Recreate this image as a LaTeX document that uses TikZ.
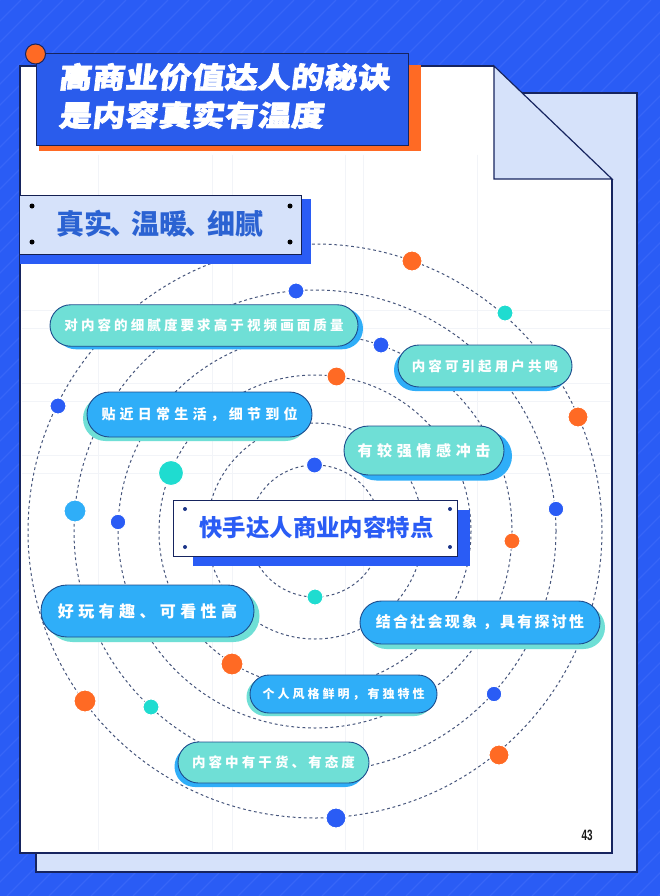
\documentclass[tikz,border=0pt]{standalone}
\usepackage{fontspec}
\usetikzlibrary{shapes.misc}
\setmainfont{Noto Sans CJK SC}
\newfontfamily\titlefont{Noto Sans CJK SC}[FakeSlant=0.12,FakeStretch=1.14,FakeBold=2.4]
\newfontfamily\numfont{Liberation Sans}[FakeStretch=0.66]
\definecolor{bgblue}{HTML}{2A5CF5}
\definecolor{stripe}{HTML}{3766F8}
\definecolor{boxblue}{HTML}{2A5CEC}
\definecolor{lightblue}{HTML}{D6E2FA}
\definecolor{navy}{HTML}{16245F}
\definecolor{teal}{HTML}{6FDFD6}
\definecolor{sky}{HTML}{2FAEF8}
\definecolor{orangec}{HTML}{FF6A24}
\definecolor{cyanc}{HTML}{1FDCD0}
\definecolor{ringc}{HTML}{46557C}
\definecolor{gridc}{HTML}{F2F4F8}
\definecolor{subtext}{HTML}{2B62D2}
\newcommand{\spaced}[2]{\fontsize{#1}{#1}\selectfont\bfseries\addfontfeature{LetterSpace=#2}}
\tikzset{
 sheetline/.style={draw=navy,line width=1.2pt},
 ring/.style={draw=ringc,line width=1pt,dash pattern=on 2.8pt off 2.8pt},
 pill/.style={rounded rectangle,draw=navy!70!sky,line width=.9pt,inner sep=0pt,outer sep=0pt,text=white,align=center},
 pillback/.style={rounded rectangle,inner sep=0pt,outer sep=0pt},
 dotn/.style={circle,inner sep=0pt,outer sep=0pt,draw=white,line width=1pt},
 rivet/.style={circle,inner sep=0pt,outer sep=0pt,minimum size=5pt,fill=black},
 rivetb/.style={circle,inner sep=0pt,outer sep=0pt,minimum size=4pt,fill=navy!70!boxblue},
}
\begin{document}
\begin{tikzpicture}[x=1pt,y=-1pt]
\useasboundingbox (0,0) rectangle (660,896);
% background
\fill[bgblue] (0,0) rectangle (660,896);
\begin{scope}
\clip (0,0) rectangle (660,896);
\foreach \s in {0,21,...,1560}{
  \draw[stripe,line width=1.2pt] (\s,0) -- (\s-896,896);
}
\end{scope}
% back sheet
\fill[lightblue,draw=navy,line width=1.2pt] (36,93) rectangle (637,872);
% front sheet
\fill[white] (20,66) -- (494,66) -- (612,179) -- (612,853) -- (20,853) -- cycle;
\begin{scope}
\clip (20,66) -- (494,66) -- (612,179) -- (612,853) -- (20,853) -- cycle;
\foreach \gx in {98,212,232,345,363,477}{\draw[gridc,line width=.7pt] (\gx,155) -- (\gx,850);}
\foreach \gy in {310,328,383,401,455,473}{\draw[gridc,line width=.7pt] (22,\gy) -- (610,\gy);}
\end{scope}
\draw[sheetline] (494,66) -- (20,66) -- (20,853) -- (612,853) -- (612,179);
% fold
\fill[lightblue,draw=navy,line width=1.2pt] (494,66) -- (612,179) -- (494,179) -- cycle;
% rings
\foreach \r in {287,241,197,156,108,66}{
  \draw[ring] (315,531) circle[radius=\r];
}
% ring dots
\foreach \n/\x/\y/\d/\c in {
  a/412/261/19/orangec, b/296/291/15/bgblue, c/505/313/15/cyanc, d/381/345/15/bgblue,
  e/336.5/376.5/18/orangec, f/578/417/19/orangec, g/58/406/15/bgblue, h/314.5/465/15/bgblue,
  i/171/473/24/cyanc, j/75/511/21/sky, k/118/522/14.5/bgblue, l/556/509/14.5/bgblue,
  m/512/541/15/orangec, n/315/597/15/cyanc, o/232/664/21/orangec, p/85/701/21/orangec,
  q/151/707/15/cyanc, r/494/694/14.5/bgblue, s/499/755/19/orangec, t/336/818/19/bgblue}{
  \node[dotn,fill=\c,minimum size=\d pt+1pt] (dot\n) at (\x,\y) {};
}
% title
\fill[orangec] (39,65) rectangle (421,151);
\node[rectangle,draw=navy,line width=1pt,fill=boxblue,inner sep=0pt,outer sep=0pt,minimum width=372pt,minimum height=92pt] (titlebox) at (222.5,100) {};
\node[inner sep=0pt,text=white] (title1) at (224,77) {\titlefont\fontsize{28.7}{28.7}\selectfont\bfseries\addfontfeature{LetterSpace=1.5}高商业价值达人的秘诀};
\node[inner sep=0pt,text=white,anchor=west] (title2) at (title1.west |- 0,115) {\titlefont\fontsize{28.7}{28.7}\selectfont\bfseries\addfontfeature{LetterSpace=1.5}是内容真实有温度};
\node[circle,draw=navy,line width=1pt,fill=orangec,minimum size=20pt,inner sep=0pt] (titledot) at (35.5,54) {};
% subhead
\fill[bgblue] (20,199) rectangle (311,264);
\fill[lightblue,draw=navy!85!black,line width=1pt] (20,195) -- (301,195) -- (301,254) -- (20,254);
\node[inner sep=0pt,text=subtext] (subhead) at (159.5,224) {\fontsize{28}{28}\selectfont\bfseries 真实\hspace{-3pt}、\hspace{-5.5pt}温暖\hspace{-3pt}、\hspace{-5.5pt}细腻};
\node[rivet] (r1) at (32,206) {};
\node[rivet] (r2) at (290,206) {};
\node[rivet] (r3) at (32,242) {};
\node[rivet] (r4) at (290,242) {};
% pills
\node[pillback,fill=sky,minimum width=308pt,minimum height=41.5pt] (s1) at (209,328.5) {};
\node[pill,fill=teal,minimum width=308pt,minimum height=41.5pt] (p1) at (204,325.5) {\spaced{13.5}{23}对内容的细腻度要求高于视频画面质量};
\node[pillback,fill=sky,minimum width=174pt,minimum height=42pt] (s2) at (481,370) {};
\node[pill,fill=teal,minimum width=174pt,minimum height=42pt] (p2) at (485,366) {\spaced{13.5}{23}内容可引起用户共鸣};
\node[pillback,fill=teal,minimum width=225pt,minimum height=45pt] (s3) at (195.5,418.5) {};
\node[pill,fill=sky,minimum width=225pt,minimum height=45pt] (p3) at (199.5,414.5) {\spaced{14}{30}贴近日常生活，细节到位};
\node[pillback,fill=sky,minimum width=160pt,minimum height=49pt] (s4) at (432,456) {};
\node[pill,fill=teal,minimum width=160pt,minimum height=49pt] (p4) at (424,450.5) {\spaced{15}{31}有较强情感冲击};
\node[pillback,fill=teal,minimum width=213pt,minimum height=52pt] (s5) at (153,616) {};
\node[pill,fill=sky,minimum width=213pt,minimum height=52pt] (p5) at (147.5,611) {\spaced{16}{27.5}好玩有趣、可看性高};
\node[pillback,fill=teal,minimum width=240pt,minimum height=43pt] (s6) at (485,627.5) {};
\node[pill,fill=sky,minimum width=240pt,minimum height=43pt] (p6) at (480,622.5) {\spaced{15}{15}结合社会现象 ，具有探讨性};
\node[pillback,fill=teal,minimum width=187pt,minimum height=38pt] (s7) at (340,697) {};
\node[pill,fill=sky,minimum width=187pt,minimum height=38pt] (p7) at (343.5,694) {\spaced{12}{25}个人风格鲜明，有独特性};
\node[pillback,fill=sky,minimum width=191pt,minimum height=41pt] (s8) at (270,766.5) {};
\node[pill,fill=teal,minimum width=191pt,minimum height=41pt] (p8) at (273.5,762.5) {\spaced{13.5}{23}内容中有干货、有态度};
% centre box
\node[rectangle,fill=bgblue,inner sep=0pt,outer sep=0pt,minimum width=277pt,minimum height=56pt] (cs) at (331.5,538) {};
\node[rectangle,draw=navy,line width=1pt,fill=white,inner sep=0pt,outer sep=0pt,minimum width=284.5pt,minimum height=56pt] (cb) at (315.5,528) {};
\node[inner sep=0pt,text=bgblue] (ctext) at (316.5,528) {\fontsize{23.4}{23.4}\selectfont\bfseries 快手达人商业内容特点};
\node[rivetb] (c1) at (185,509) {};
\node[rivetb] (c2) at (185,547) {};
\node[rivetb] (c3) at (450,509) {};
\node[rivetb] (c4) at (450,547) {};
% page number
\node[inner sep=0pt,text=black!90] (pageno) at (587,835) {\numfont\fontsize{15}{15}\selectfont\bfseries 43};
\end{tikzpicture}
\end{document}
